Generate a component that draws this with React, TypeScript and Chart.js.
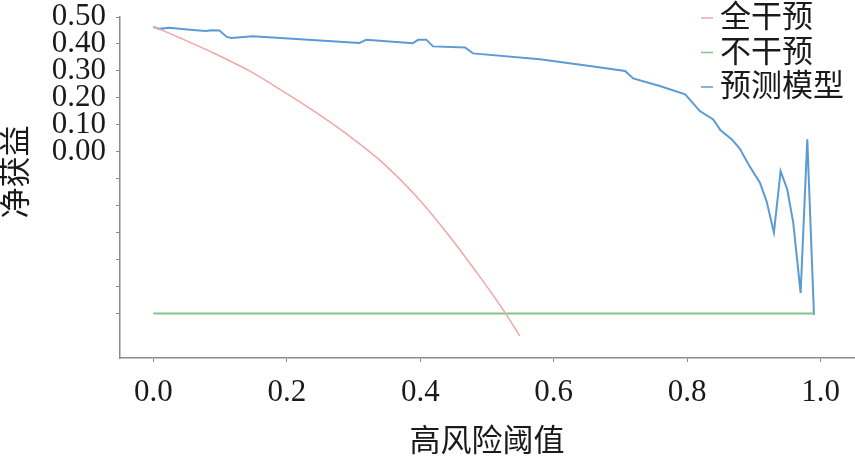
import React, { useRef, useEffect } from 'react';
import { Chart, ChartConfiguration, registerables } from 'chart.js';

Chart.register(...registerables);

// 阈值 / 净获益
const allThreshold = [0, 0.009, 0.044, 0.094, 0.144, 0.194, 0.244, 0.294, 0.344, 0.394, 0.444, 0.494, 0.529, 0.549];
const allNetBenefit = [0.463, 0.455, 0.418, 0.362, 0.3, 0.225, 0.145, 0.058, -0.041, -0.165, -0.314, -0.48, -0.604, -0.683];

const noneThreshold = [0, 0.99];
const noneNetBenefit = [-0.6, -0.6];

const modelThreshold = [
  0, 0.009, 0.024, 0.059, 0.079, 0.087, 0.099, 0.11, 0.117, 0.149, 0.309, 0.319, 0.389, 0.397, 0.409, 0.419,
  0.467, 0.479, 0.579, 0.654, 0.707, 0.719, 0.759, 0.797, 0.819, 0.839, 0.85, 0.867, 0.879, 0.892, 0.909,
  0.919, 0.93, 0.94, 0.95, 0.959, 0.97, 0.98, 0.99,
];
const modelNetBenefit = [
  0.463, 0.456, 0.46, 0.452, 0.448, 0.451, 0.45, 0.426, 0.422, 0.429, 0.404, 0.416, 0.403, 0.416, 0.416, 0.391,
  0.387, 0.365, 0.343, 0.318, 0.3, 0.272, 0.244, 0.213, 0.151, 0.12, 0.08, 0.046, 0.011, -0.047, -0.115,
  -0.184, -0.3, -0.072, -0.14, -0.264, -0.524, 0.046, -0.605,
];

const seriesNames = ['全干预', '不干预', '预测模型'];
const seriesColors = ['#f2a5a5', '#86c28a', '#5b9bd5'];

const xTickValues = [0, 0.2, 0.4, 0.6, 0.8, 1.0];
const yTickValues = [0.5, 0.4, 0.3, 0.2, 0.1, 0, -0.1, -0.2, -0.3, -0.4, -0.5, -0.6];

const xTitle = '高风险阈值';
const yTitle = '净获益';

const FONT = '"Liberation Serif", "Noto Sans CJK SC", serif';

const toPoints = (xs: number[], ys: number[]) => xs.map((x, i) => ({ x, y: ys[i] }));

// legend inside the plot + rotated y title
const overlayPlugin = {
  id: 'overlay',
  afterDraw(chart: Chart) {
    const ctx = chart.ctx;
    ctx.save();
    ctx.font = `31px ${FONT}`;
    ctx.fillStyle = '#1a1a1a';
    ctx.textBaseline = 'middle';
    ctx.textAlign = 'left';
    chart.data.datasets.forEach((ds, i) => {
      const y = 18 + i * 34.5;
      ctx.strokeStyle = ds.borderColor as string;
      ctx.lineWidth = 1.5;
      ctx.beginPath();
      ctx.moveTo(701, y);
      ctx.lineTo(713, y);
      ctx.stroke();
      ctx.fillText(ds.label as string, 720, y + 1);
    });

    ctx.translate(18, 172);
    ctx.rotate(-Math.PI / 2);
    ctx.textAlign = 'center';
    ctx.fillText(yTitle, 0, 0);
    ctx.restore();
  },
};

const App: React.FC = () => {
  const chartRef = useRef<HTMLCanvasElement | null>(null);
  const chartInstanceRef = useRef<Chart | null>(null);

  useEffect(() => {
    if (!chartRef.current) return;
    const ctx = chartRef.current.getContext('2d');
    if (!ctx) return;
    if (chartInstanceRef.current) chartInstanceRef.current.destroy();

    const config: ChartConfiguration<'line'> = {
      type: 'line',
      data: {
        datasets: [
          {
            label: seriesNames[0],
            data: toPoints(allThreshold, allNetBenefit),
            borderColor: seriesColors[0],
            borderWidth: 1.5,
            pointRadius: 0,
            cubicInterpolationMode: 'monotone',
          },
          {
            label: seriesNames[1],
            data: toPoints(noneThreshold, noneNetBenefit),
            borderColor: seriesColors[1],
            borderWidth: 2,
            pointRadius: 0,
          },
          {
            label: seriesNames[2],
            data: toPoints(modelThreshold, modelNetBenefit),
            borderColor: seriesColors[2],
            borderWidth: 2,
            pointRadius: 0,
          },
        ],
      },
      options: {
        animation: false,
        responsive: true,
        maintainAspectRatio: false,
        layout: { padding: { top: 0, right: 1, left: 0, bottom: 0 } },
        plugins: {
          legend: { display: false },
          tooltip: { enabled: false },
        },
        scales: {
          x: {
            type: 'linear',
            min: -0.05,
            max: 1.05,
            afterBuildTicks: (scale) => {
              scale.ticks = xTickValues.map((value) => ({ value }));
            },
            afterFit: (scale) => {
              scale.height = 107;
            },
            ticks: {
              autoSkip: false,
              maxRotation: 0,
              padding: 12,
              color: '#1a1a1a',
              font: { family: FONT, size: 31 },
              callback: (value) => Number(value).toFixed(1),
            },
            grid: { drawOnChartArea: false, drawTicks: true, tickLength: 4, color: '#8c8c8c' },
            border: { color: '#8c8c8c', width: 1.5 },
            title: {
              display: true,
              text: xTitle,
              color: '#1a1a1a',
              font: { family: FONT, size: 31 },
              padding: { top: 0, bottom: 4 },
            },
          },
          y: {
            type: 'linear',
            min: -0.765,
            max: 0.5,
            afterBuildTicks: (scale) => {
              scale.ticks = yTickValues.map((value) => ({ value }));
            },
            afterFit: (scale) => {
              scale.width = 120;
              scale.paddingTop = 17;
              scale.paddingBottom = 0;
            },
            ticks: {
              autoSkip: false,
              padding: 10,
              color: '#1a1a1a',
              font: { family: FONT, size: 31, lineHeight: 1.1 },
              callback: (value) => (Number(value) >= -0.001 ? Number(value).toFixed(2) : ''),
            },
            grid: { drawOnChartArea: false, drawTicks: true, tickLength: 4, color: '#8c8c8c' },
            border: { color: '#8c8c8c', width: 1.5 },
          },
        },
      },
      plugins: [overlayPlugin],
    };

    chartInstanceRef.current = new Chart(ctx, config);

    return () => {
      if (chartInstanceRef.current) {
        chartInstanceRef.current.destroy();
        chartInstanceRef.current = null;
      }
    };
  }, []);

  return (
    <div style={{ position: 'fixed', left: 0, top: 0, width: '855px', height: '465px', background: '#fff' }}>
      <canvas ref={chartRef} />
    </div>
  );
};

export default App;
